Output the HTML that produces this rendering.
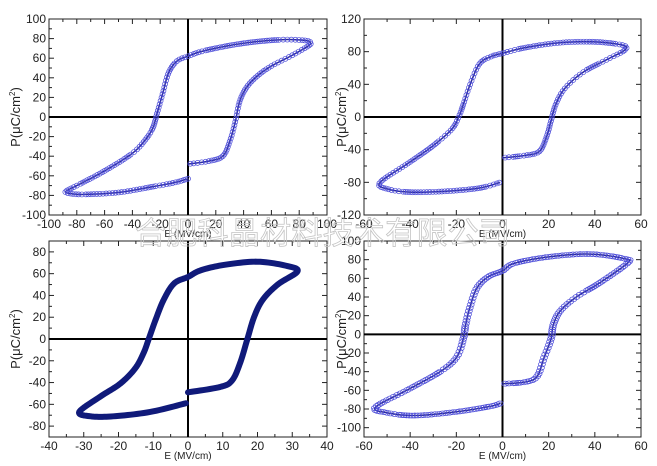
<!DOCTYPE html>
<html><head><meta charset="utf-8"><style>
body{margin:0;background:#fff;width:657px;height:466px;overflow:hidden}
svg{display:block;font-family:"Liberation Sans",Arial,sans-serif}
</style></head><body>
<svg id="s" width="657" height="466" xmlns="http://www.w3.org/2000/svg"></svg>
<script>
const S=document.getElementById('s');let out='';
function cr(pts,n){const r=[];for(let i=0;i<pts.length-1;i++){const p0=pts[Math.max(0,i-1)],p1=pts[i],p2=pts[i+1],p3=pts[Math.min(pts.length-1,i+2)];for(let t=0;t<n;t++){const u=t/n,u2=u*u,u3=u2*u;r.push([0.5*(2*p1[0]+(-p0[0]+p2[0])*u+(2*p0[0]-5*p1[0]+4*p2[0]-p3[0])*u2+(-p0[0]+3*p1[0]-3*p2[0]+p3[0])*u3),0.5*(2*p1[1]+(-p0[1]+p2[1])*u+(2*p0[1]-5*p1[1]+4*p2[1]-p3[1])*u2+(-p0[1]+3*p1[1]-3*p2[1]+p3[1])*u3)]);}}r.push(pts[pts.length-1]);return r;}
function panel(o){const{L,R,T,B,x0,x1,y0,y1,xt,yt,xminor,yminor,pts,mode,ylab}=o;
const X=v=>L+(v-x0)/(x1-x0)*(R-L),Y=v=>B-(v-y0)/(y1-y0)*(B-T);
out+=`<rect x="${L}" y="${T}" width="${R-L}" height="${B-T}" fill="none" stroke="#222" stroke-width="1"/>`;
for(let v=x0;v<=x1+1e-9;v+=xminor){const big=Math.abs(((v-x0)/xt)-Math.round((v-x0)/xt))<1e-6;const l=big?5:3;out+=`<line x1="${X(v)}" y1="${B}" x2="${X(v)}" y2="${B-l}" stroke="#222"/><line x1="${X(v)}" y1="${T}" x2="${X(v)}" y2="${T+l}" stroke="#222"/>`;}
for(let v=y0;v<=y1+1e-9;v+=yminor){const big=Math.abs(((v-yt[0])/yt[1])-Math.round((v-yt[0])/yt[1]))<1e-6;const l=big?5:3;out+=`<line x1="${L}" y1="${Y(v)}" x2="${L+l}" y2="${Y(v)}" stroke="#222"/><line x1="${R}" y1="${Y(v)}" x2="${R-l}" y2="${Y(v)}" stroke="#222"/>`;}
for(let v=x0;v<=x1+1e-9;v+=xt)out+=`<text x="${X(v)}" y="${B+13}" font-size="12" text-anchor="middle" fill="#222">${v}</text>`;
for(let v=yt[0];v<=y1+1e-9;v+=yt[1])out+=`<text x="${L-3}" y="${Y(v)+4}" font-size="12" text-anchor="end" fill="#222">${v}</text>`;
out+=`<line x1="${L}" y1="${Y(0)}" x2="${R}" y2="${Y(0)}" stroke="#000" stroke-width="2"/><line x1="${X(0)}" y1="${T}" x2="${X(0)}" y2="${B}" stroke="#000" stroke-width="2"/>`;
out+=`<text x="${(L+R)/2}" y="${B+22}" font-size="10" text-anchor="middle" fill="#222">E (MV/cm)</text>`;
out+=`<text transform="translate(${ylab},${(T+B)/2}) rotate(-90)" font-size="13" text-anchor="middle" fill="#222">P(μC/cm<tspan font-size="8" dy="-5">2</tspan><tspan dy="5">)</tspan></text>`;
const c=cr(pts.map(p=>[X(p[0]),Y(p[1])]),12);
if(mode==='thick'){out+=`<polyline points="${c.map(p=>p.join(',')).join(' ')}" fill="none" stroke="#101a7a" stroke-width="6" stroke-linejoin="round" stroke-linecap="round"/>`;}
else{out+=`<polyline points="${c.map(p=>p.join(',')).join(' ')}" fill="none" stroke="#2a2a9a" stroke-width="1.5"/>`;let acc=0;for(let i=1;i<c.length;i++){const d=Math.hypot(c[i][0]-c[i-1][0],c[i][1]-c[i-1][1]);acc+=d;if(acc>=2.2){acc=0;out+=`<ellipse cx="${c[i][0]}" cy="${c[i][1]}" rx="${o.rx}" ry="2.5" fill="none" stroke="#4a4ad8" stroke-width="0.7"/>`;}}}
}
panel({L:49,R:327,T:19,B:215,x0:-100,x1:100,y0:-100,y1:100,xt:20,yt:[-100,20],xminor:10,yminor:10,ylab:20,rx:2.5,
pts:[[0,-48],[15,-45],[25,-40],[30,-25],[34,-5],[37,15],[42,30],[50,42],[60,52],[75,63],[87,73],[88,76],[85,78],[70,79],[50,77],[30,73],[10,67],[0,62],[-8,57],[-14,45],[-18,25],[-22,5],[-25,-10],[-30,-22],[-40,-37],[-60,-55],[-80,-70],[-88,-76],[-85,-78],[-75,-79],[-50,-77],[-25,-71],[-10,-67],[0,-63]]});
panel({L:364,R:641,T:19,B:215,x0:-60,x1:60,y0:-120,y1:120,xt:20,yt:[-120,40],xminor:10,yminor:20,ylab:346,rx:2.5,
pts:[[0,-50],[10,-47],[16,-42],[19,-25],[21,-5],[23,15],[27,35],[35,55],[45,70],[53,82],[52,88],[40,92],[25,91],[10,85],[0,78],[-5,74],[-10,65],[-14,40],[-17,15],[-19,0],[-22,-15],[-30,-35],[-40,-55],[-53,-80],[-50,-88],[-40,-92],[-25,-91],[-10,-87],[-1,-80]]});
panel({L:49,R:327,T:241,B:437,x0:-40,x1:40,y0:-90,y1:90,xt:10,yt:[-80,20],xminor:5,yminor:10,ylab:20,mode:'thick',
pts:[[0,-49],[9.3,-44],[12.7,-38],[15,-22],[17,-1],[19,20],[21.5,36],[25.8,50],[31.5,62],[28.6,67],[20,71],[10.3,68],[3.6,63],[0,57],[-4,51],[-7,36],[-9.4,17],[-11.3,0],[-12.8,-13],[-15.2,-27],[-19.5,-41],[-25.3,-53],[-31.3,-67],[-28,-71],[-21.5,-71],[-10.9,-67],[-0.6,-59]]});
panel({L:364,R:641,T:241,B:437,x0:-60,x1:60,y0:-110,y1:100,xt:20,yt:[-100,20],xminor:10,yminor:10,ylab:346,rx:3.5,
pts:[[0,-53],[10,-51],[15,-45],[18,-25],[21,-5],[22,10],[25,25],[32,40],[42,55],[54,76],[53,81],[38,86],[20,83],[5,76],[0,68],[-6,62],[-11,50],[-14,30],[-16,10],[-17,-5],[-20,-25],[-27,-40],[-40,-58],[-55,-78],[-50,-84],[-38,-87],[-20,-83],[-5,-77],[-1,-74]]});
out+=`<text x="135" y="244" font-size="31" fill="none" stroke="#c4c4c4" stroke-width="0.8" style='font-family:"Liberation Sans","Noto Sans CJK SC",sans-serif' textLength="375">合肥科晶材料技术有限公司</text>`;
S.innerHTML=out;
</script>
</body></html>
